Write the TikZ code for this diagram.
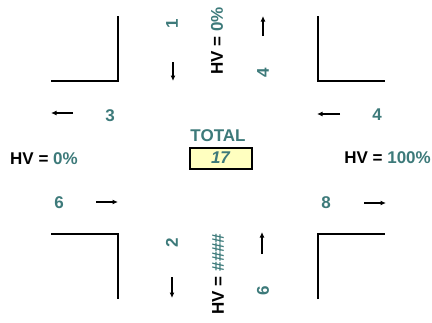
\documentclass[tikz,border=0pt]{standalone}
\usepackage{fontspec}
\setmainfont{Liberation Sans}
\usetikzlibrary{arrows.meta}
\definecolor{tealtxt}{RGB}{61,122,122}
\definecolor{boxfill}{RGB}{255,255,192}
\tikzset{
  curb/.style={line width=2pt, line join=miter},
  flow/.style={line width=1.3pt, -{Latex[length=5.5pt,width=5pt]}},
  num/.style={font=\fontsize{17}{20}\selectfont\bfseries, text=tealtxt, inner sep=0pt},
  lbl/.style={font=\fontsize{17}{20}\selectfont\bfseries, inner sep=0pt},
  vert/.style={rotate=90},
}
\begin{document}
\begin{tikzpicture}[x=1pt,y=-1pt]
\useasboundingbox (0,0) rectangle (432,322);
% curbs
\draw[curb] (51,81) -- (118,81) -- (118,16);
\draw[curb] (318,16) -- (318,81) -- (385,81);
\draw[curb] (51,234) -- (118,234) -- (118,299);
\draw[curb] (318,299) -- (318,234) -- (385,234);
% arrows coordinates
\coordinate (tdA) at (173,62); \coordinate (tdB) at (173,81);
\coordinate (tuA) at (263,36); \coordinate (tuB) at (263,16);
\coordinate (llA) at (73,113); \coordinate (llB) at (51,113);
\coordinate (lrA) at (96,202); \coordinate (lrB) at (118,202);
\coordinate (rlA) at (340,114); \coordinate (rlB) at (317,114);
\coordinate (rrA) at (364,203); \coordinate (rrB) at (386,203);
\coordinate (bdA) at (172,277); \coordinate (bdB) at (172,298);
\coordinate (buA) at (262,254); \coordinate (buB) at (262,232);
\draw[flow] (tdA) -- (tdB);
\draw[flow] (tuA) -- (tuB);
\draw[flow] (llA) -- (llB);
\draw[flow] (lrA) -- (lrB);
\draw[flow] (rlA) -- (rlB);
\draw[flow] (rrA) -- (rrB);
\draw[flow] (bdA) -- (bdB);
\draw[flow] (buA) -- (buB);
% numbers
\node[num, vert] (n1) at (172,24) {1};
\node[num, vert] (n4t) at (263,73) {4};
\node[num, vert] (n2) at (172,243) {2};
\node[num, vert] (n6b) at (263,291) {6};
\node[num] (n3) at (110,116) {3};
\node[num] (n4r) at (377,115) {4};
\node[num] (n6l) at (59,203) {6};
\node[num] (n8) at (326,203) {8};
% HV labels
\node[lbl, vert] (hvt) at (217,41) {HV = \textcolor{tealtxt}{0\%}};
\node[lbl, vert] (hvb) at (218,274) {HV = \textcolor{tealtxt}{\#\#\#\#}};
\node[lbl, anchor=west] (hvl) at (10,159) {HV = \textcolor{tealtxt}{0\%}};
\node[lbl, anchor=east] (hvr) at (431,158) {HV = \textcolor{tealtxt}{100\%}};
% total
\node[num] (tot) at (218,136) {TOTAL};
\node[draw, line width=2pt, fill=boxfill, minimum width=62pt, minimum height=21pt, inner sep=0pt,
  font=\fontsize{17}{20}\selectfont\bfseries\itshape, text=tealtxt] (val) at (220.5,158) {17};
\end{tikzpicture}
\end{document}
